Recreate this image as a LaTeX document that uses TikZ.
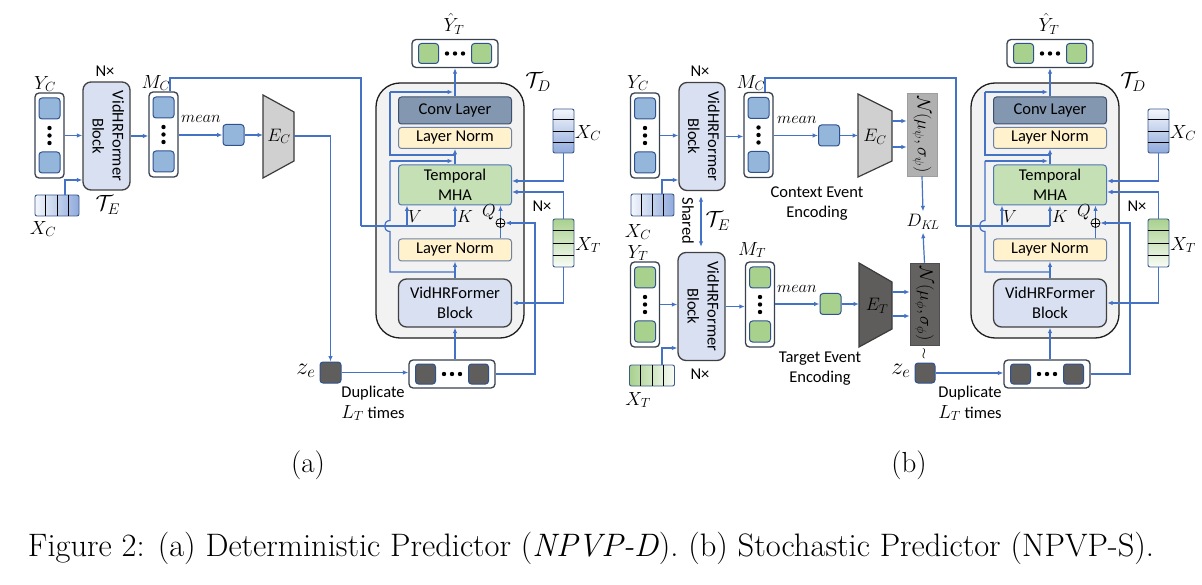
\RequirePackage{fix-cm}
\documentclass[tikz,border=0pt]{standalone}
\usepackage{fontspec}
\newfontfamily\calib{Carlito}
\usetikzlibrary{arrows.meta,calc}
\newcommand\sansf{\calib\fontsize{16.5}{20}\selectfont}
\newcommand\mlabf{\fontsize{19}{22}\selectfont}
\newcommand\qkvf{\fontsize{17.5}{20}\selectfont}
\newcommand\calf{\fontsize{22}{24}\selectfont}
\definecolor{lblue}{RGB}{68,114,196}
\definecolor{contc}{RGB}{55,65,80}
\definecolor{sqblue}{RGB}{149,182,219}
\definecolor{sqline}{RGB}{47,82,143}
\definecolor{sqgreen}{RGB}{169,209,142}
\definecolor{sqdark}{RGB}{96,93,93}
\definecolor{blkfill}{RGB}{216,224,242}
\definecolor{blkline}{RGB}{64,64,64}
\definecolor{tdfill}{RGB}{242,242,242}
\definecolor{tdline}{RGB}{30,30,30}
\definecolor{convfill}{RGB}{132,151,176}
\definecolor{convline}{RGB}{60,80,110}
\definecolor{lnfill}{RGB}{255,242,204}
\definecolor{lnline}{RGB}{110,130,165}
\definecolor{mhafill}{RGB}{197,224,180}
\definecolor{mhaline}{RGB}{80,120,180}
\definecolor{ecfill}{RGB}{208,208,208}
\definecolor{etfill}{RGB}{95,92,92}
\definecolor{trline}{RGB}{60,60,60}
\definecolor{npsifill}{RGB}{176,176,176}
\definecolor{nphifill}{RGB}{100,97,97}
\definecolor{barblue}{RGB}{143,170,220}
\definecolor{bargreen}{RGB}{169,209,142}
\definecolor{barline}{RGB}{60,90,140}
\tikzset{
  arr/.style={draw=lblue, line width=1.2pt, -{Latex[length=5.5pt,width=4.5pt]}},
  ln/.style={draw=lblue, line width=1.2pt},
  dbl/.style={draw=lblue, line width=1.2pt, {Latex[length=5.5pt,width=4.5pt]}-{Latex[length=5.5pt,width=4.5pt]}},
  cont/.style={draw=contc, fill=white, line width=1.3pt, rounded corners=4pt, inner sep=0},
  sq/.style={draw=sqline, line width=1pt, rounded corners=3pt, minimum width=21pt, minimum height=21pt, inner sep=0},
  sqb/.style={sq, fill=sqblue},
  sqg/.style={sq, fill=sqgreen},
  sqd/.style={sq, fill=sqdark},
  blk/.style={draw=blkline, fill=blkfill, line width=1.3pt, rounded corners=8pt, inner sep=0, font=\sansf},
  lay/.style={rounded corners=3pt, line width=1pt, inner sep=0, minimum width=113pt, font=\sansf},
  mlab/.style={inner sep=0, font=\mlabf},
  qkv/.style={inner sep=0, font=\qkvf},
  clab/.style={inner sep=0, font=\calf},
  slab/.style={inner sep=0, font=\sansf, align=center},
  trap/.style={draw=trline, line width=1.2pt},
  barb/.style={draw=barline, line width=0.9pt, rounded corners=2pt, inner sep=0},
  hbarC/.style={barb, left color=barblue!10, right color=barblue},
  vbarC/.style={barb, top color=barblue!10, bottom color=barblue},
  hbarT/.style={barb, left color=bargreen, right color=bargreen!8},
  vbarT/.style={barb, top color=bargreen, bottom color=bargreen!8},
  divl/.style={draw=black, line width=0.8pt},
  nbox/.style={minimum width=30pt, minimum height=83pt, inner sep=0, line width=0.5pt},
}
\newcommand\vseq[4]{%
  \node[cont, minimum width=29pt, minimum height=85pt] (#1) at (#2,#3) {};
  \node[#4] (#1a) at (#2,#3-27) {};
  \node[#4] (#1b) at (#2,#3+27) {};
  \fill[black] (#2,#3-7.5) circle[radius=2.2pt] (#2,#3) circle[radius=2.2pt] (#2,#3+7.5) circle[radius=2.2pt];
}
\newcommand\hseq[4]{%
  \node[cont, minimum width=86pt, minimum height=28pt] (#1) at (#2,#3) {};
  \node[#4, minimum width=20pt, minimum height=20pt] (#1a) at (#2-26.5,#3) {};
  \node[#4, minimum width=20pt, minimum height=20pt] (#1b) at (#2+26.5,#3) {};
  \fill[black] (#2-8,#3) circle[radius=2.2pt] (#2,#3) circle[radius=2.2pt] (#2+8,#3) circle[radius=2.2pt];
}
\newcommand\hdivs[1]{\foreach \f in {0.25,0.5,0.75}{\draw[divl] ($(#1.north west)!\f!(#1.north east)$) -- ($(#1.south west)!\f!(#1.south east)$);}}
\newcommand\vdivs[1]{\foreach \f in {0.25,0.5,0.75}{\draw[divl] ($(#1.north west)!\f!(#1.south west)$) -- ($(#1.north east)!\f!(#1.south east)$);}}
\newcommand\encblock[4]{%
  \node[blk, minimum width=#4pt, minimum height=108pt] (#1) at (#2,#3) {\rotatebox{-90}{\begin{tabular}{@{}c@{}}VidHRFormer\\Block\end{tabular}}};
}
\newcommand\decoder[2]{%
\begin{scope}[xshift=#2]
  \hseq{#1out}{455}{53.5}{sqg}
  \node[mlab] (#1yhat) at (454,24) {$\hat{Y}_T$};
  \node[draw=tdline, fill=tdfill, line width=1.3pt, rounded corners=24pt, minimum width=148pt, minimum height=255pt, inner sep=0] (#1TD) at (450,210.5) {};
  \node[clab] (#1tdl) at (538,82) {$\mathcal{T}_D$};
  \node[lay, fill=convfill, draw=convline, minimum height=27pt] (#1conv) at (455,110.5) {Conv Layer};
  \node[lay, fill=lnfill, draw=lnline, minimum height=21pt] (#1lnA) at (455,138) {Layer Norm};
  \node[lay, fill=mhafill, draw=mhaline, minimum height=40pt, align=center] (#1mha) at (455,185) {Temporal\\MHA};
  \node[lay, fill=lnfill, draw=lnline, minimum height=22pt] (#1lnB) at (455,250) {Layer Norm};
  \node[blk, minimum width=113pt, minimum height=48pt, align=center] (#1vid) at (455,303) {VidHRFormer\\Block};
  \hseq{#1dup}{452}{374}{sqd}
  \node[circle, draw=black, fill=tdfill, inner sep=0, minimum size=9pt, line width=0.7pt] (#1plus) at (500.5,223) {};
  \draw[line width=0.7pt] (#1plus.north) -- (#1plus.south) (#1plus.west) -- (#1plus.east);
  \node[qkv] (#1V) at (415,217) {$V$};
  \node[qkv] (#1K) at (465,217) {$K$};
  \node[qkv] (#1Q) at (489,212) {$Q$};
  \node[vbarC, minimum width=21pt, minimum height=44pt] (#1XC) at (563.5,131) {};
  \vdivs{#1XC}
  \node[mlab] (#1XCl) at (588,133) {$X_C$};
  \node[vbarT, minimum width=21pt, minimum height=48pt] (#1XT) at (563.5,243) {};
  \vdivs{#1XT}
  \node[mlab] (#1XTl) at (588,245) {$X_T$};
  \node[slab] (#1Nx) at (542,206) {N×};
  % connectors
  \draw[arr] (#1conv.north) -- (#1out.south);
  \coordinate (#1rAs) at (455,155); \coordinate (#1rAc) at (390,155);
  \coordinate (#1rAt) at (390,92); \coordinate (#1rAe) at (453,92);
  \draw[ln] (#1rAs) -- (#1rAc) -- (#1rAt);
  \draw[arr] (#1rAt) -- (#1rAe);
  \draw[arr] (#1mha.north) -- (#1lnA.south);
  \coordinate (#1rBs) at (455,272); \coordinate (#1rBc) at (390,272);
  \coordinate (#1rBt) at (390,161); \coordinate (#1rBe) at (453,161);
  \draw[ln] (#1rBs) -- (#1rBc) -- (390,231.5) .. controls (382.7,231.5) and (382.7,220.5) .. (390,220.5) -- (#1rBt);
  \draw[arr] (#1rBt) -- (#1rBe);
  \draw[arr] (#1vid.north) -- (#1lnB.south);
  \draw[ln] (#1lnB.north -| #1plus) -- (#1plus.south);
  \draw[arr] (#1plus.north) -- (#1plus.north |- #1mha.south);
  \coordinate (#1qr) at (535,223);
  \draw[arr] (#1dup.east) -| (#1qr) -- (#1plus.east);
  \draw[arr] (#1dup.north -| #1vid.south) -- (#1vid.south);
  \coordinate (#1kvl) at (361,226); \coordinate (#1kvr) at (455,226);
  \coordinate (#1kvv) at (407,226); \coordinate (#1kvtop) at (361,78);
  \draw[ln] (#1kvl) -- (#1kvr);
  \draw[arr] (#1kvv) -- (#1kvv |- #1mha.south);
  \draw[arr] (#1kvr) -- (#1kvr |- #1mha.south);
  \draw[arr] (#1XC.south) |- ([yshift=4pt]#1mha.east);
  \draw[arr] (#1XT.north) |- ([yshift=-7pt]#1mha.east);
  \draw[arr] (#1XT.south) |- (#1vid.east);
\end{scope}}
\begin{document}
\begin{tikzpicture}[x=1pt,y=-1pt]
\useasboundingbox (0,0) rectangle (1202,585);
\fill[white] (0,0) rectangle (1202,585);
% ================= panel (a)
\vseq{aYC}{49.5}{135.5}{sqb}
\node[mlab] (aYCl) at (45,84) {$Y_C$};
\encblock{aEnc}{106.5}{136}{47}
\node[slab] (aN) at (105,71) {N×};
\node[clab] (aTE) at (108,205) {$\mathcal{T}_E$};
\node[hbarC, minimum width=44pt, minimum height=21pt] (aXC) at (57,205.5) {};
\hdivs{aXC}
\node[mlab] (aXCl) at (43,229) {$X_C$};
\draw[arr] (aYC.east) -- (aEnc.west |- aYC.east);
\draw[arr] ([xshift=8pt]aXC.north) |- (aEnc.west |- 0,180);
\vseq{aMC}{163.5}{134.5}{sqb}
\node[mlab] (aMCl) at (156,83) {$M_C$};
\draw[arr] (aEnc.east) -- (aMC.west |- aEnc.east);
\node[mlab, font=\fontsize{16.5}{18}\selectfont] (amean) at (201,119) {$mean$};
\node[sqb] (aSq) at (233.5,135) {};
\draw[arr] (aMC.east |- aSq.west) -- (aSq.west);
\draw[trap, fill=ecfill] (263,95) -- (294,112) -- (294,161) -- (263,178) -- cycle;
\node[mlab, font=\fontsize{18}{20}\selectfont] (aEC) at (279,136.5) {$E_C$};
\coordinate (aECin) at (263,135);
\coordinate (aECout) at (294,136);
\draw[arr] (aSq.east) -- (aECin);
\node[sqd] (aZe) at (330.5,372.5) {};
\node[mlab, font=\fontsize{24}{26}\selectfont] (aZel) at (306,371) {$z_e$};
\draw[arr] (aECout) -| (aZe.north);
\decoder{a}{0pt}
\draw[ln] ([xshift=6.5pt]aMC.north) |- (akvtop) -- (akvl);
\draw[arr] (aZe.east) -- (adup.west |- aZe.east);
\node[slab] (aDupl) at (373,393) {Duplicate};
\node[slab] (aLT) at (373,413) {{\mlabf$L_T$} times};
% ================= panel (b) : context row
\vseq{bYC}{645}{135.5}{sqb}
\node[mlab] (bYCl) at (638,83) {$Y_C$};
\encblock{bEnc}{702}{136.5}{46}
\node[slab] (bN1) at (700,71) {N×};
\node[hbarC, minimum width=43pt, minimum height=22pt] (bXC) at (652.5,205) {};
\hdivs{bXC}
\node[mlab] (bXCl) at (638,232) {$X_C$};
\draw[arr] (bYC.east) -- (bEnc.west |- bYC.east);
\draw[arr] ([xshift=9.5pt]bXC.north) |- (bEnc.west |- 0,180);
\vseq{bMC}{758.5}{135}{sqb}
\node[mlab] (bMCl) at (751,83) {$M_C$};
\draw[arr] (bEnc.east) -- (bMC.west |- bEnc.east);
\node[mlab, font=\fontsize{16.5}{18}\selectfont] (bmean) at (797,120) {$mean$};
\node[sqb] (bSq) at (829,135.5) {};
\draw[arr] (bMC.east |- bSq.west) -- (bSq.west);
\draw[trap, fill=ecfill] (858,94) -- (892,111) -- (892,161) -- (858,177) -- cycle;
\node[mlab, font=\fontsize{18}{20}\selectfont] (bEC) at (875,137) {$E_C$};
\coordinate (bECin) at (858,135.5);
\draw[arr] (bSq.east) -- (bECin);
\node[nbox, draw=npsifill!90!black, fill=npsifill] (bNpsi) at (922,134.5) {\rotatebox{-90}{\fontsize{18}{21}\selectfont$\mathcal{N}(\mu_\psi,\sigma_\psi)$}};
\coordinate (bECo1) at (892,121);
\coordinate (bECo2) at (892,147);
\draw[arr] (bECo1) -- (bNpsi.west |- bECo1);
\draw[arr] (bECo2) -- (bNpsi.west |- bECo2);
\node[mlab, inner sep=3pt, font=\fontsize{18}{20}\selectfont] (bDKL) at (923,222) {$D_{K\!L}$};
\draw[arr] (bNpsi.south) -- (bDKL.north);
\node[slab] (bCEE) at (817,204) {Context Event\\Encoding};
% shared
\node[slab, rotate=-90] (bShared) at (688,221) {Shared};
\node[clab] (bTE) at (718,221) {$\mathcal{T}_E$};
% ================= panel (b) : target row
\vseq{bYT}{645}{304.5}{sqg}
\node[mlab] (bYTl) at (638,253) {$Y_T$};
\encblock{bEncT}{701.5}{306.5}{47}
\node[slab] (bN2) at (700,374) {N×};
\draw[dbl] ([yshift=-5pt]bEnc.south -| 701,0) -- ([yshift=5pt]bEncT.north -| 701,0);
\node[hbarT, minimum width=45pt, minimum height=21pt] (bXT) at (652,375.5) {};
\hdivs{bXT}
\node[mlab] (bXTl) at (638,400) {$X_T$};
\draw[arr] (bYT.east) -- (bEncT.west |- bYT.east);
\draw[arr] ([xshift=10pt]bXT.north) |- (bEncT.west |- 0,348);
\vseq{bMT}{760}{304.5}{sqg}
\node[mlab] (bMTl) at (752,250) {$M_T$};
\draw[arr] (bEncT.east) -- (bMT.west |- bEncT.east);
\node[mlab, font=\fontsize{16.5}{18}\selectfont] (bmeanT) at (797,289) {$mean$};
\node[sqg] (bSqT) at (830.5,304) {};
\draw[arr] (bMT.east |- bSqT.west) -- (bSqT.west);
\draw[trap, fill=etfill] (859,263) -- (892,282) -- (892,329) -- (859,347) -- cycle;
\node[mlab, font=\fontsize{18}{20}\selectfont] (bET) at (877,306) {$E_T$};
\coordinate (bETin) at (859,304);
\draw[arr] (bSqT.east) -- (bETin);
\node[nbox, draw=nphifill!80!black, fill=nphifill, minimum width=29pt, minimum height=82pt] (bNphi) at (924.5,304) {\rotatebox{-90}{\fontsize{18}{21}\selectfont$\mathcal{N}(\mu_\phi,\sigma_\phi)$}};
\coordinate (bETo1) at (892,292);
\coordinate (bETo2) at (892,316);
\draw[arr] (bETo1) -- (bNphi.west |- bETo1);
\draw[arr] (bETo2) -- (bNphi.west |- bETo2);
\draw[arr] (bNphi.north) -- (bDKL.south);
\node[slab] (bTEE) at (820,369) {Target Event\\Encoding};
\node[mlab, font=\fontsize{15}{17}\selectfont] (bwr) at (924,354) {$\wr$};
\node[sqd, minimum width=20pt, minimum height=20pt] (bZe) at (925,373) {};
\node[mlab, font=\fontsize{24}{26}\selectfont] (bZel) at (901,371) {$z_e$};
% decoder (b)
\decoder{b}{595pt}
\draw[ln] ([xshift=6.5pt]bMC.north) |- (bkvtop) -- (bkvl);
\draw[arr] (bZe.east) -- (bdup.west |- bZe.east);
\node[slab] (bDupl) at (970,393) {Duplicate};
\node[slab] (bLT) at (970,413) {{\mlabf$L_T$} times};
% ================= captions
\node[inner sep=0, font=\fontsize{29}{33}\selectfont] (capa) at (308,465) {(a)};
\node[inner sep=0, font=\fontsize{29}{33}\selectfont] (capb) at (909,465) {(b)};
\node[inner sep=0, font=\fontsize{32.5}{36}\selectfont] (cap) at (591,548) {Figure 2: (a) Deterministic Predictor (\textit{NPVP-D}). (b) Stochastic Predictor (NPVP-S).};
\end{tikzpicture}
\end{document}
